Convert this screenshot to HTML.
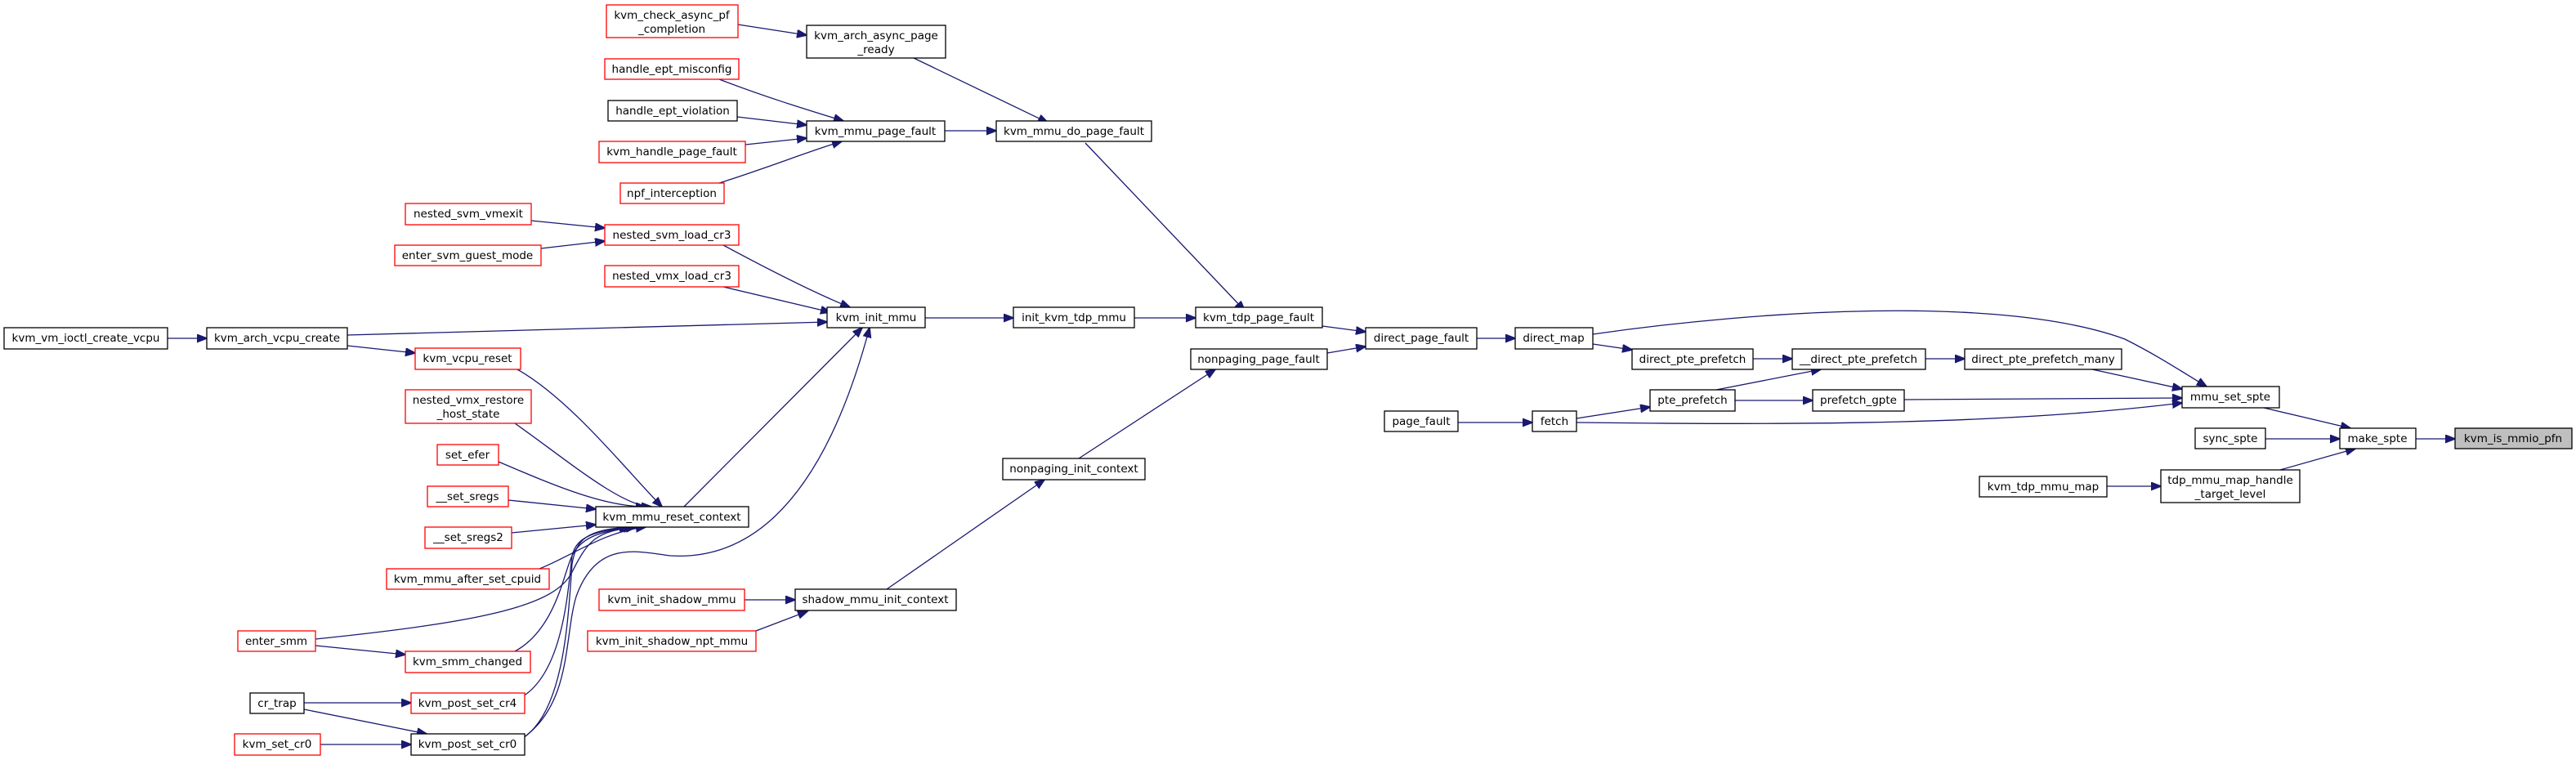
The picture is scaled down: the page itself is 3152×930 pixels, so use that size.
<!DOCTYPE html>
<html><head><meta charset="utf-8"><style>
html,body{margin:0;padding:0;background:#fff;}
svg{display:block;}
text{font-family:"DejaVu Sans","Liberation Sans",sans-serif;font-size:13.5px;fill:#000;text-anchor:middle;}
.r{fill:#fff;stroke:#ff0000;stroke-width:1.3;}
.b{fill:#fff;stroke:#000;stroke-width:1.3;}
.g{fill:#bfbfbf;stroke:#000;stroke-width:1.3;}
.e{fill:none;stroke:#191970;stroke-width:1.3;marker-end:url(#a);}
</style></head><body>
<svg width="3152" height="930" viewBox="0 0 3152 930" xmlns="http://www.w3.org/2000/svg">
<defs><marker id="a" markerUnits="userSpaceOnUse" markerWidth="14" markerHeight="12" refX="12" refY="5" orient="auto"><path d="M0,0 L13,5 L0,10 z" fill="#191970" stroke="#191970"/></marker></defs>
<g>
<path class="e" d="M903,30 L987,43"/>
<path class="e" d="M880,97 C940,120 990,135 1032,148"/>
<path class="e" d="M902,143 L987,153"/>
<path class="e" d="M912,177 L987,169"/>
<path class="e" d="M880,224 C940,205 990,185 1030,173"/>
<path class="e" d="M1118,71 L1282,150"/>
<path class="e" d="M1156,160 L1219,160"/>
<path class="e" d="M1328,175 L1523,380"/>
<path class="e" d="M650,270 L740,279"/>
<path class="e" d="M662,304 L740,295"/>
<path class="e" d="M885,300 C950,335 1000,360 1040,376"/>
<path class="e" d="M885,351 L1016,382"/>
<path class="e" d="M205,414 L253,414"/>
<path class="e" d="M425,410 L1012,394"/>
<path class="e" d="M425,423 L508,432"/>
<path class="e" d="M633,452 C700,490 770,580 810,620"/>
<path class="e" d="M630,518 C690,560 760,620 797,620"/>
<path class="e" d="M610,565 C680,595 740,620 790,620"/>
<path class="e" d="M622,612 L729,623"/>
<path class="e" d="M626,652 L729,642"/>
<path class="e" d="M660,696 C700,680 740,650 790,645"/>
<path class="e" d="M386,782 C600,760 680,740 700,700 C720,660 730,650 778,645"/>
<path class="e" d="M386,790 L496,801"/>
<path class="e" d="M630,797 C680,770 690,700 700,680 C710,660 730,650 775,645"/>
<path class="e" d="M640,852 C690,820 695,720 700,680 C705,660 720,650 772,645"/>
<path class="e" d="M640,903 C690,870 695,760 700,690 C705,660 718,648 770,645"/>
<path class="e" d="M640,903 C700,860 690,780 705,730 C730,660 780,675 820,680 C900,685 1000,640 1064,401"/>
<path class="e" d="M372,860 L503,860"/>
<path class="e" d="M372,868 L522,898"/>
<path class="e" d="M392,911 L503,911"/>
<path class="e" d="M837,620 L1055,401"/>
<path class="e" d="M1132,389 L1240,389"/>
<path class="e" d="M1388,389 L1463,389"/>
<path class="e" d="M1618,399 L1671,406"/>
<path class="e" d="M1624,432 L1671,424"/>
<path class="e" d="M1807,414 L1854,414"/>
<path class="e" d="M1949,409 C2150,380 2450,360 2600,415 C2640,435 2670,455 2700,473"/>
<path class="e" d="M1949,421 L1997,428"/>
<path class="e" d="M2145,439 L2193,439"/>
<path class="e" d="M2100,477 L2228,452"/>
<path class="e" d="M2123,490 L2218,490"/>
<path class="e" d="M2356,439 L2404,439"/>
<path class="e" d="M2560,452 L2670,476"/>
<path class="e" d="M2330,489 L2670,487"/>
<path class="e" d="M1929,517 C2200,520 2450,520 2670,493"/>
<path class="e" d="M1929,512 L2019,498"/>
<path class="e" d="M1784,517 L1875,517"/>
<path class="e" d="M1320,561 L1487,452"/>
<path class="e" d="M1085,721 L1278,587"/>
<path class="e" d="M911,734 L973,734"/>
<path class="e" d="M925,772 L988,748"/>
<path class="e" d="M2770,499 L2876,524"/>
<path class="e" d="M2772,537 L2863,537"/>
<path class="e" d="M2790,575 L2882,549"/>
<path class="e" d="M2578,595 L2644,595"/>
<path class="e" d="M2956,537 L3004,537"/>
</g>
<g>
<rect class="r" x="742" y="6" width="161" height="40"/><text x="822" y="23">kvm_check_async_pf</text><text x="822" y="40">_completion</text>
<rect class="b" x="987" y="31" width="170" height="40"/><text x="1072" y="48">kvm_arch_async_page</text><text x="1072" y="65">_ready</text>
<rect class="r" x="740" y="72" width="164" height="25"/><text x="822" y="89">handle_ept_misconfig</text>
<rect class="b" x="744" y="123" width="158" height="25"/><text x="823" y="140">handle_ept_violation</text>
<rect class="r" x="733" y="173" width="179" height="26"/><text x="822" y="190">kvm_handle_page_fault</text>
<rect class="r" x="759" y="224" width="127" height="25"/><text x="822" y="241">npf_interception</text>
<rect class="b" x="987" y="148" width="169" height="25"/><text x="1071" y="165">kvm_mmu_page_fault</text>
<rect class="b" x="1219" y="148" width="190" height="25"/><text x="1314" y="165">kvm_mmu_do_page_fault</text>
<rect class="r" x="496" y="249" width="154" height="26"/><text x="573" y="266">nested_svm_vmexit</text>
<rect class="r" x="740" y="275" width="164" height="25"/><text x="822" y="292">nested_svm_load_cr3</text>
<rect class="r" x="483" y="300" width="179" height="25"/><text x="572" y="317">enter_svm_guest_mode</text>
<rect class="r" x="740" y="325" width="164" height="26"/><text x="822" y="342">nested_vmx_load_cr3</text>
<rect class="b" x="5" y="401" width="200" height="26"/><text x="105" y="418">kvm_vm_ioctl_create_vcpu</text>
<rect class="b" x="253" y="401" width="172" height="26"/><text x="339" y="418">kvm_arch_vcpu_create</text>
<rect class="r" x="508" y="426" width="129" height="26"/><text x="572" y="443">kvm_vcpu_reset</text>
<rect class="r" x="496" y="477" width="154" height="41"/><text x="573" y="494">nested_vmx_restore</text><text x="573" y="511">_host_state</text>
<rect class="r" x="535" y="544" width="75" height="25"/><text x="572" y="561">set_efer</text>
<rect class="r" x="523" y="595" width="99" height="25"/><text x="572" y="612">__set_sregs</text>
<rect class="b" x="729" y="620" width="187" height="25"/><text x="822" y="637">kvm_mmu_reset_context</text>
<rect class="r" x="520" y="645" width="106" height="26"/><text x="573" y="662">__set_sregs2</text>
<rect class="r" x="473" y="696" width="199" height="25"/><text x="572" y="713">kvm_mmu_after_set_cpuid</text>
<rect class="r" x="733" y="721" width="178" height="26"/><text x="822" y="738">kvm_init_shadow_mmu</text>
<rect class="r" x="719" y="772" width="206" height="25"/><text x="822" y="789">kvm_init_shadow_npt_mmu</text>
<rect class="b" x="973" y="721" width="197" height="26"/><text x="1071" y="738">shadow_mmu_init_context</text>
<rect class="r" x="291" y="772" width="95" height="25"/><text x="338" y="789">enter_smm</text>
<rect class="r" x="496" y="797" width="153" height="26"/><text x="572" y="814">kvm_smm_changed</text>
<rect class="b" x="306" y="848" width="66" height="25"/><text x="339" y="865">cr_trap</text>
<rect class="r" x="503" y="848" width="139" height="25"/><text x="572" y="865">kvm_post_set_cr4</text>
<rect class="r" x="287" y="898" width="105" height="26"/><text x="339" y="915">kvm_set_cr0</text>
<rect class="b" x="503" y="898" width="139" height="26"/><text x="572" y="915">kvm_post_set_cr0</text>
<rect class="b" x="1012" y="376" width="120" height="25"/><text x="1072" y="393">kvm_init_mmu</text>
<rect class="b" x="1240" y="376" width="148" height="25"/><text x="1314" y="393">init_kvm_tdp_mmu</text>
<rect class="b" x="1463" y="376" width="155" height="25"/><text x="1540" y="393">kvm_tdp_page_fault</text>
<rect class="b" x="1457" y="427" width="167" height="25"/><text x="1540" y="444">nonpaging_page_fault</text>
<rect class="b" x="1671" y="401" width="136" height="26"/><text x="1739" y="418">direct_page_fault</text>
<rect class="b" x="1854" y="401" width="95" height="26"/><text x="1901" y="418">direct_map</text>
<rect class="b" x="1227" y="561" width="174" height="26"/><text x="1314" y="578">nonpaging_init_context</text>
<rect class="b" x="1694" y="503" width="90" height="25"/><text x="1739" y="520">page_fault</text>
<rect class="b" x="1875" y="503" width="54" height="25"/><text x="1902" y="520">fetch</text>
<rect class="b" x="1997" y="427" width="148" height="25"/><text x="2071" y="444">direct_pte_prefetch</text>
<rect class="b" x="2019" y="477" width="104" height="26"/><text x="2071" y="494">pte_prefetch</text>
<rect class="b" x="2193" y="427" width="163" height="25"/><text x="2274" y="444">__direct_pte_prefetch</text>
<rect class="b" x="2218" y="477" width="112" height="26"/><text x="2274" y="494">prefetch_gpte</text>
<rect class="b" x="2404" y="427" width="192" height="25"/><text x="2500" y="444">direct_pte_prefetch_many</text>
<rect class="b" x="2670" y="473" width="119" height="26"/><text x="2729" y="490">mmu_set_spte</text>
<rect class="b" x="2686" y="524" width="86" height="25"/><text x="2729" y="541">sync_spte</text>
<rect class="b" x="2863" y="524" width="93" height="25"/><text x="2909" y="541">make_spte</text>
<rect class="g" x="3004" y="524" width="143" height="25"/><text x="3075" y="541">kvm_is_mmio_pfn</text>
<rect class="b" x="2422" y="583" width="156" height="25"/><text x="2500" y="600">kvm_tdp_mmu_map</text>
<rect class="b" x="2644" y="575" width="170" height="40"/><text x="2729" y="592">tdp_mmu_map_handle</text><text x="2729" y="609">_target_level</text>
</g>
</svg>
</body></html>
